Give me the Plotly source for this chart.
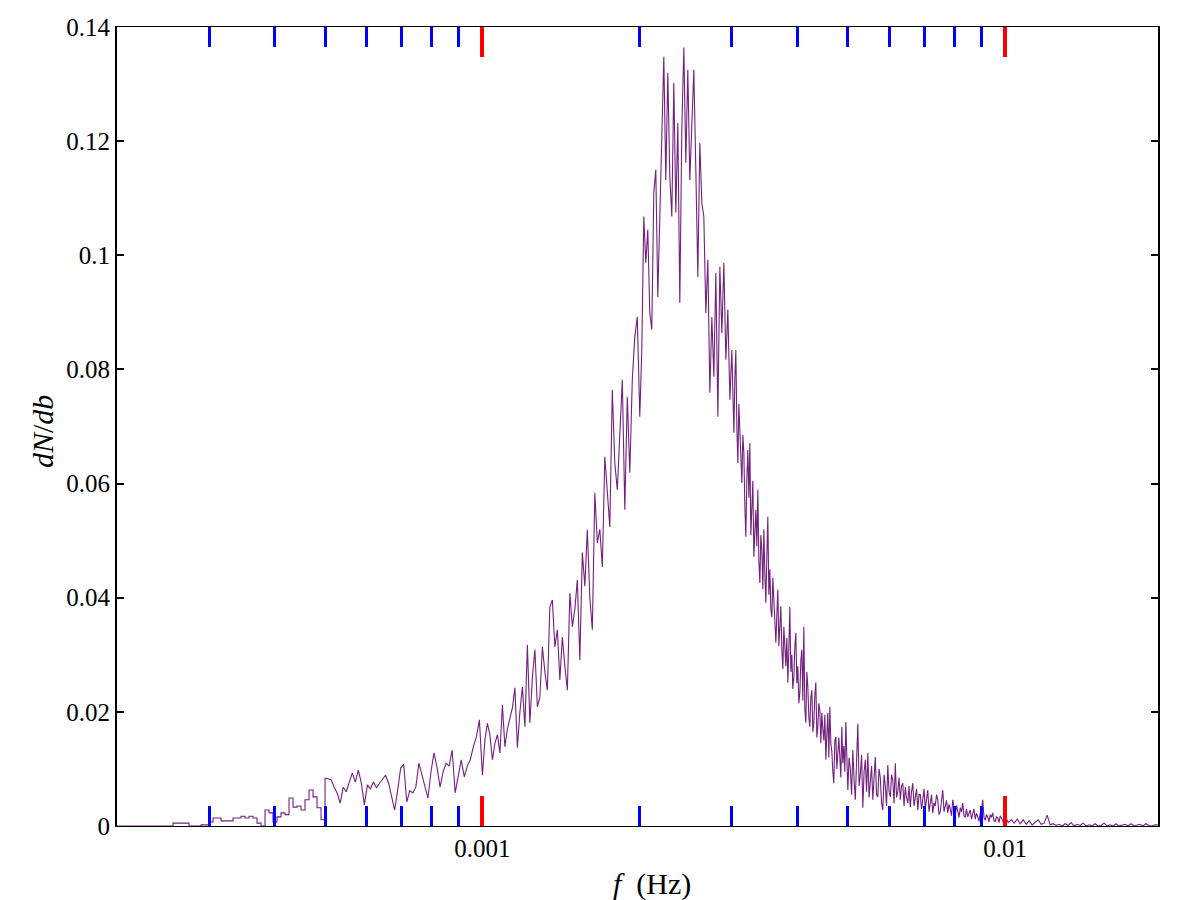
import numpy as np
import plotly.graph_objects as go

# Histogram of dN/db versus frequency f (Hz), values in units of 1e-3
F_EDGES = [2e-4, 5e-4, 1e-3, 2e-3, 3e-3, 5e-3, 1e-2, 1.96e-2]

dndb_a = [0, 0, 0, 0, 0, 0, 0, 0, 0, 0, 0, 0, 0, 0, 0.5, 0.5, 0.5, 0.5, 0, 0,
          0, 0.2, 0.2, 0.7, 1.4, 1.4, 0.9, 0.9, 0.9, 1.4, 1.4, 1.7, 1.4, 1.7, 1.4, 0.5,
          0, 2.8, 2.3, 0.7, 1.6, 2.3, 2.0, 4.9, 3.3, 3.5, 2.8, 4.6, 6.3, 5.1, 3.2, 1.1]

dndb_b = [8.4, 8.2, 8.1, 6.8, 5.8, 4.0, 6.8, 6.0, 7.5, 9.3, 7.7, 9.8, 7.5, 3.7, 7.2, 6.5,
          7.7, 6.7, 7.5, 8.1, 8.9, 7.5, 5.2, 2.8, 6.3, 10.2, 10.8, 4.2, 6.2, 5.8, 6.8, 11.0,
          9.0, 7.0, 4.9, 9.5, 12.8, 10.3, 6.8, 9.5, 11.0, 10.5, 13.3, 5.8, 9.0, 11.6, 8.6,
          10.5, 11.6, 13.9, 15.6, 18.6]

dndb_c = [8.9, 15.1, 18.0, 16.0, 11.6, 14.5, 16.0, 12.8, 21.2, 13.9, 17.0, 18.9, 20.7, 24.2,
          13.7, 20.0, 24.4, 17.4, 31.7, 18.1, 26.0, 30.9, 20.9, 22.6, 31.4, 27.0, 23.8, 38.4,
          39.6, 31.4, 34.4, 25.6, 33.1, 28.0, 23.8, 40.8, 34.9, 38.0, 43.1, 29.1, 47.9, 42.0,
          51.9, 40.0, 34.4, 58.4, 49.6, 52.0, 45.4, 64.7, 57.7, 52.4, 76.4, 63.6, 58.9, 70.0,
          78.2, 55.4, 75.2, 61.9, 78.2, 85.7, 89.2]

dndb_d = [71.7, 83.4, 106.8, 98.7, 104.5, 89.9, 87.0, 111.0, 115.0, 92.7, 106.8, 120.0, 134.8,
          113.2, 132.0, 113.8, 106.8, 130.2, 107.5, 123.2, 91.7, 122.0, 136.4, 116.2, 132.5,
          113.2, 125.0, 132.5, 115.0, 96.2, 119.7, 109.2, 106.8, 89.9, 99.2, 75.9, 89.2, 78.7,
          96.9, 71.7, 98.0, 86.4, 98.7, 81.7, 90.5, 74.7]

dndb_e = [83.4, 72.0, 68.9, 78.5, 83.4, 70.0, 63.6, 74.0, 69.4, 62.0, 60.1, 68.5, 65.4, 56.0,
          50.7, 61.0, 65.9, 57.5, 67.1, 51.0, 55.0, 60.5, 47.2, 53.0, 55.4, 49.0, 58.9, 46.5,
          42.6, 51.0, 48.4, 41.5, 52.0, 44.0, 39.1, 47.5, 54.2, 40.5, 45.0, 38.0, 36.6, 43.5,
          39.6, 34.0, 32.1, 37.0, 41.4, 31.5, 35.0, 38.5, 30.9, 27.5, 34.9, 30.0, 28.0, 33.0,
          25.1, 31.0, 38.4, 27.0, 30.0, 24.0, 26.1, 31.5, 33.8, 25.0, 28.0, 21.5, 23.3, 29.0,
          30.9, 22.0, 34.9, 20.5, 18.1, 27.0, 24.4, 19.0, 17.4, 22.5, 23.8, 16.5, 18.1, 23.0,
          25.2, 15.5, 17.4, 21.5, 20.3, 14.5, 19.8, 17.0, 15.0, 19.5, 11.6, 16.0, 19.8, 12.0,
          20.9, 14.5, 13.0, 9.5, 7.5, 15.0, 15.6, 10.0, 13.0, 15.5, 12.1, 8.5, 17.4, 11.0,
          14.0, 9.5, 18.2, 10.5]

dndb_f = [6.3, 12.0, 10.0, 5.5, 13.3, 8.0, 4.6, 11.5, 17.9, 7.0, 9.0, 12.5, 3.2, 9.5, 11.6,
          6.0, 12.8, 5.0, 8.0, 10.5, 4.6, 9.0, 12.1, 5.5, 5.1, 10.0, 8.5, 4.0, 2.8, 9.0, 7.0,
          3.5, 10.7, 6.0, 5.1, 9.0, 8.0, 4.0, 11.0, 5.0, 6.0, 8.5, 4.6, 7.0, 7.5, 3.5, 6.8,
          5.0, 4.0, 7.0, 3.3, 6.0, 7.5, 3.5, 5.0, 6.5, 2.8, 5.5, 5.5, 3.0, 4.6, 6.5, 3.0, 5.0,
          6.3, 2.5, 4.0, 5.5, 2.3, 4.0, 3.5, 5.5, 4.6, 2.0, 2.5, 5.0, 6.3, 2.5, 3.8, 4.5, 2.3,
          3.8, 3.0, 1.8, 4.6, 3.0, 2.0, 3.6, 2.3, 1.5, 3.2, 2.5, 4.0, 1.8, 1.5, 3.0, 1.6, 2.4,
          2.8, 1.2, 2.5, 3.0, 1.2, 2.2, 1.6, 0.8, 2.2, 2.8, 4.6, 1.5, 1.0, 2.0, 1.6, 0.7, 2.0,
          1.5, 2.3, 0.9, 0.8, 1.6, 1.4, 0.6, 1.8, 1.2, 0.9, 0.4]

dndb_g = [1.6, 0.6, 1.1, 0.5, 1.2, 0.4, 1.1, 0.3, 0.9, 0.2, 0.7, 1.1, 0.3, 0.5, 1.9, 0.2, 0.4,
          0.1, 0.3, 0, 0.4, 0.1, 0.6, 0, 0.3, 0.1, 0.5, 0, 0.2, 0, 0.4, 0, 0.1, 0.5, 0, 0.2, 0,
          0.4, 0, 0.1, 0.3, 0, 0.4, 0, 0.1, 0.3, 0, 0.4, 0.1, 0, 0.2]

BLOCKS = [dndb_a, dndb_b, dndb_c, dndb_d, dndb_e, dndb_f, dndb_g]

X_MAJOR = [0.001, 0.01]
X_MAJOR_TEXT = ["0.001", "0.01"]
X_MINOR = [3e-4, 4e-4, 5e-4, 6e-4, 7e-4, 8e-4, 9e-4,
           2e-3, 3e-3, 4e-3, 5e-3, 6e-3, 7e-3, 8e-3, 9e-3]
Y_TICKS = [0, 0.02, 0.04, 0.06, 0.08, 0.1, 0.12, 0.14]
Y_TEXT = ["0", "0.02", "0.04", "0.06", "0.08", "0.1", "0.12", "0.14"]

segs = []
for (fa, fb), vals in zip(zip(F_EDGES[:-1], F_EDGES[1:]), BLOCKS):
    n = len(vals)
    segs.append((list(fa * (fb / fa) ** (np.arange(n) / n)), list(np.array(vals) * 1e-3)))

xa, ya = segs[0]
xa = xa + [F_EDGES[1]]
ya = ya + [segs[1][1][0]]
xr, yr = [], []
for sx, sy in segs[1:]:
    xr += sx
    yr += sy
xr.append(F_EDGES[-1])
yr.append(yr[-1])

FONT = "Liberation Serif"
LINE_COLOR = "#73207f"
X_RANGE = [float(np.log10(2e-4)), float(np.log10(1.96e-2))]

fig = go.Figure()
fig.add_trace(go.Scatter(x=xa, y=ya, mode="lines", line=dict(color=LINE_COLOR, width=1.1, shape="hv"),
                         showlegend=False))
fig.add_trace(go.Scatter(x=xr, y=yr, mode="lines", line=dict(color=LINE_COLOR, width=1.1),
                         showlegend=False))

fig.update_layout(
    width=1200, height=900,
    margin=dict(l=117, r=42, t=27, b=74),
    paper_bgcolor="white", plot_bgcolor="white",
    font=dict(family=FONT, size=25, color="black"),
    xaxis=dict(type="log", range=X_RANGE,
               tickmode="array", tickvals=X_MAJOR, ticktext=X_MAJOR_TEXT,
               ticks="inside", ticklen=30, tickwidth=4, tickcolor="red",
               showline=True, linecolor="black", mirror="ticks",
               minor=dict(ticks="inside", ticklen=20, tickcolor="blue", tickwidth=3,
                          tickmode="array", tickvals=X_MINOR)),
    yaxis=dict(range=[0, 0.14], tickmode="array", tickvals=Y_TICKS, ticktext=Y_TEXT,
               ticks="inside", ticklen=7, tickwidth=2, tickcolor="black",
               showline=True, linecolor="black", linewidth=2, mirror="ticks",
               showgrid=False, zeroline=False),
    annotations=[
        dict(text="<i>f</i>  (Hz)", x=652, y=884, xref="paper", yref="paper", showarrow=False,
             xanchor="center", yanchor="middle", font=dict(family=FONT, size=30)),
        dict(text="<i>dN</i>/<i>db</i>", x=42, y=432, xref="paper", yref="paper", showarrow=False,
             xanchor="center", yanchor="middle", textangle=-90, font=dict(family=FONT, size=30)),
    ],
)

pw, ph = 1200 - 117 - 42, 900 - 27 - 74
for ann in fig.layout.annotations:
    ann.x = (ann.x - 117) / pw
    ann.y = 1 - (ann.y - 27) / ph

fig.write_html("out.html")
